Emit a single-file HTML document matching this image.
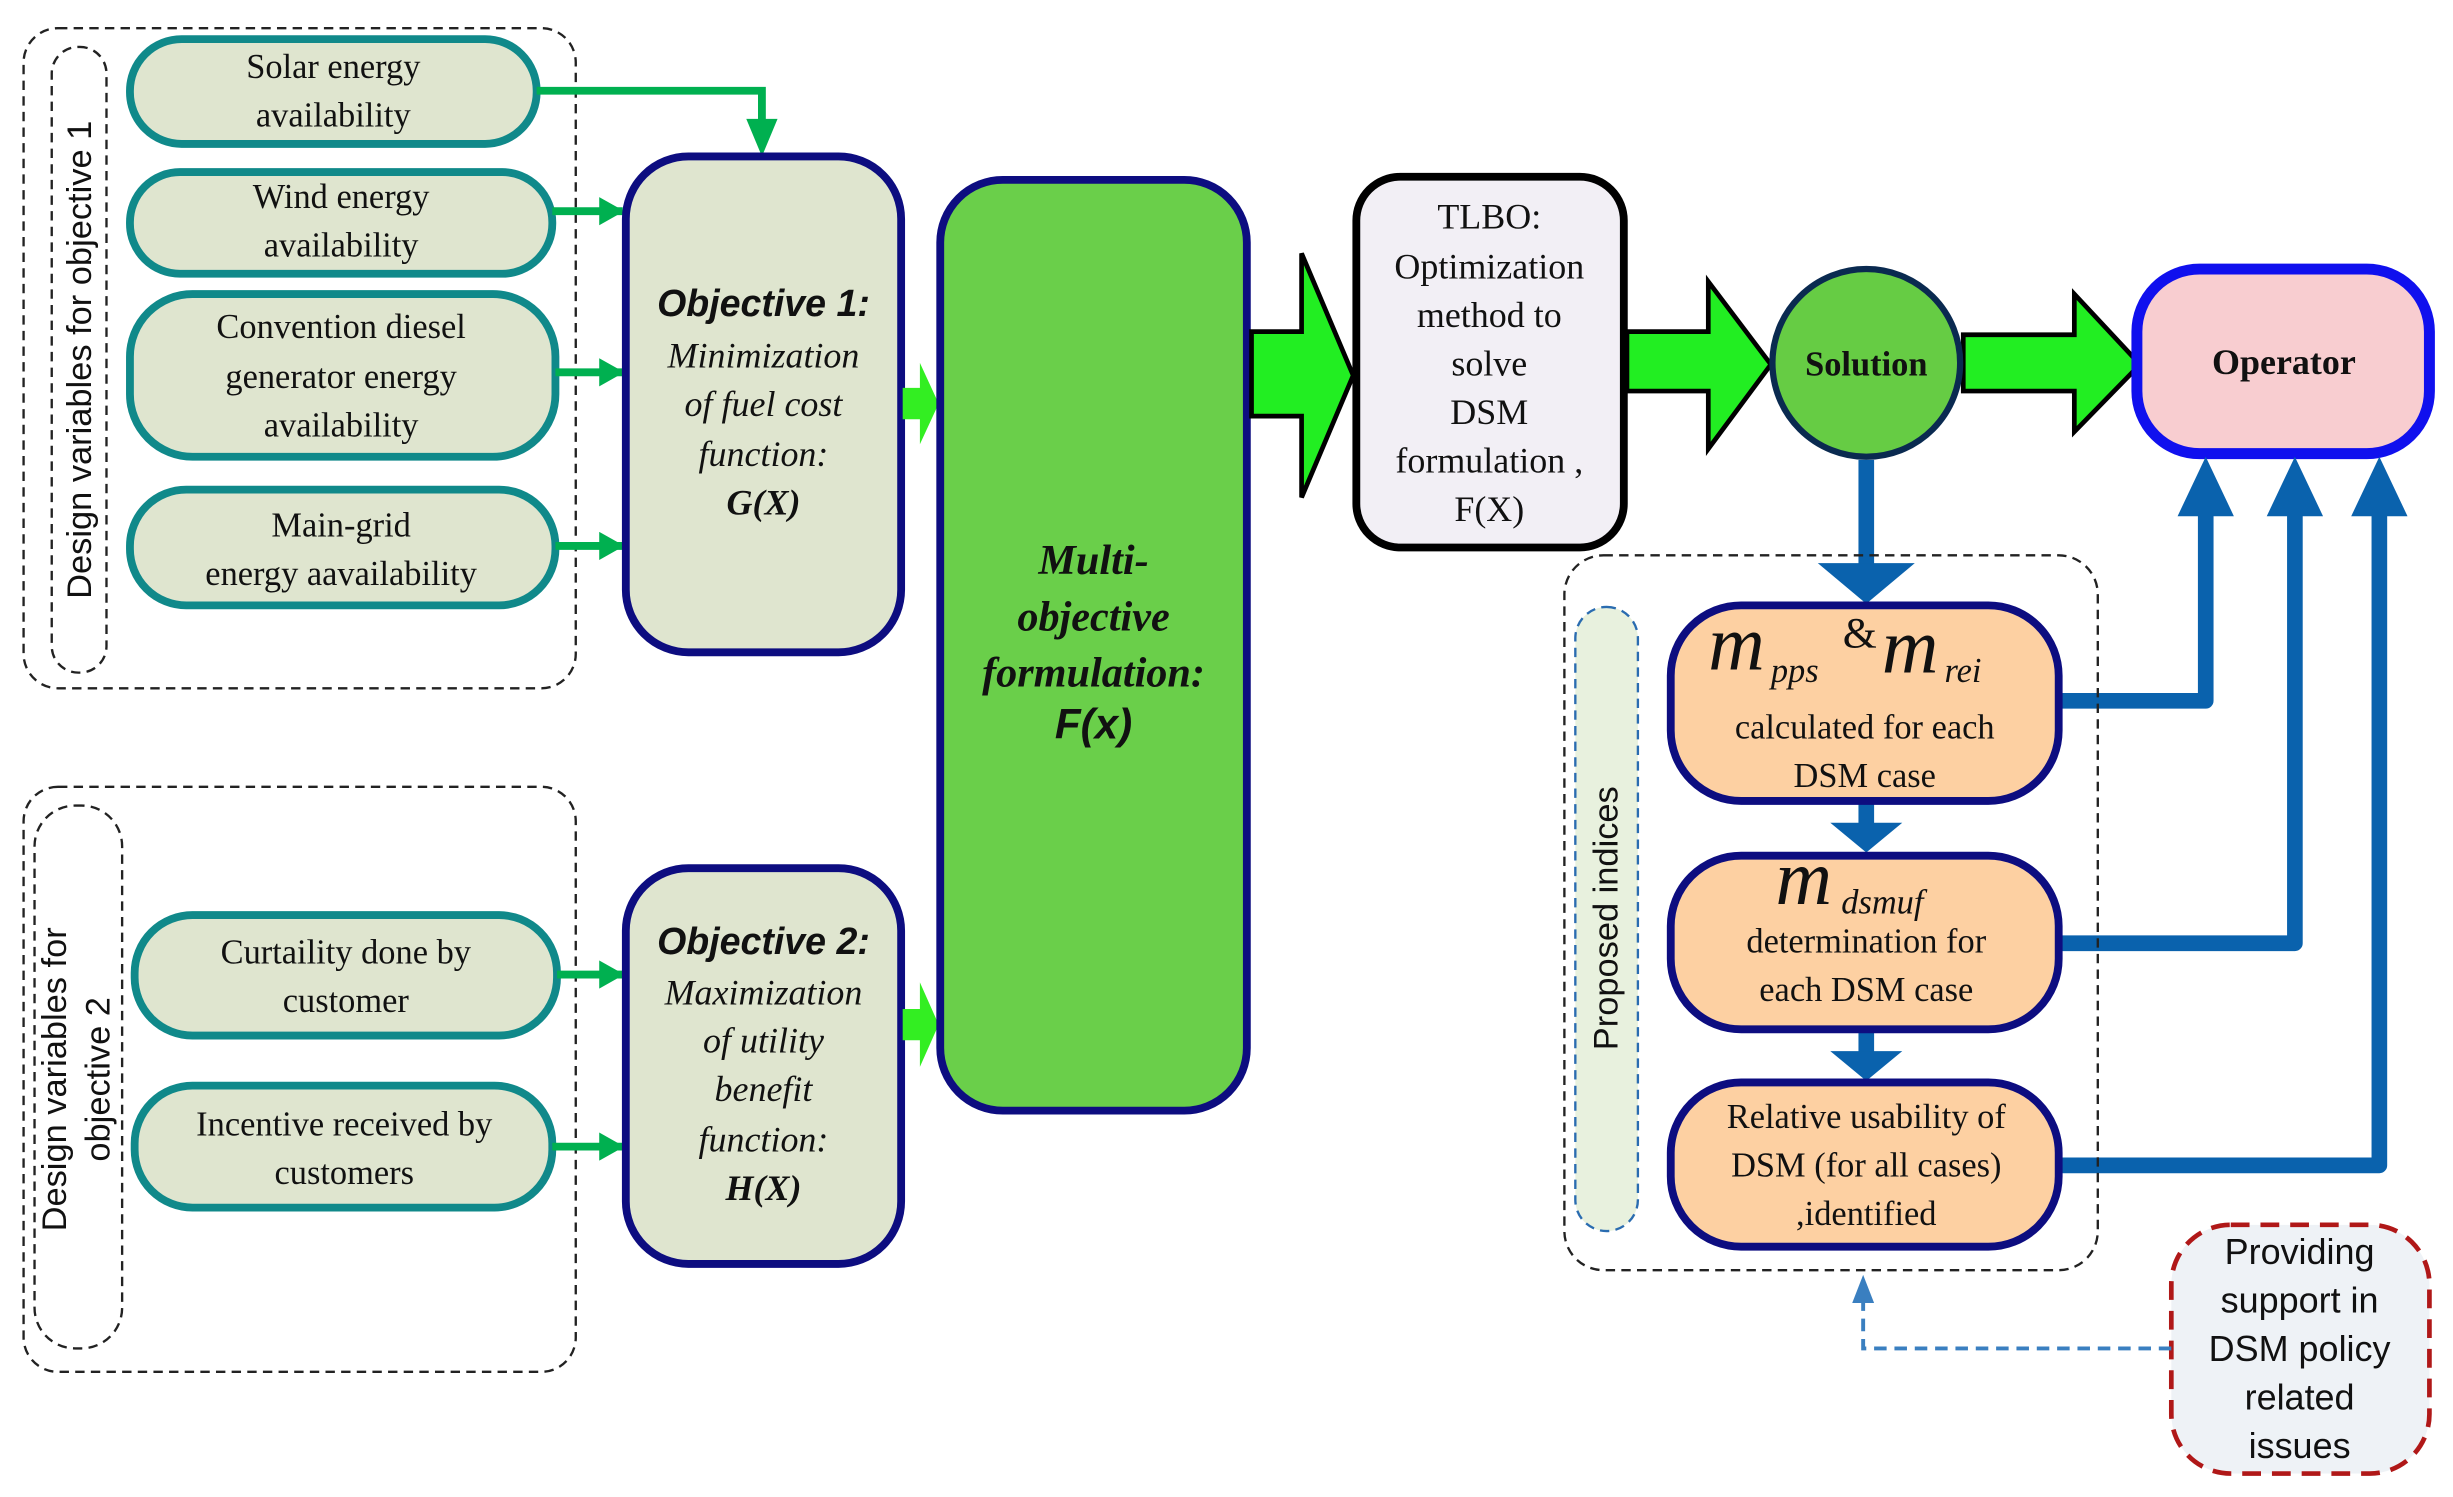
<!DOCTYPE html>
<html><head><meta charset="utf-8"><style>html,body{margin:0;padding:0;background:#fff}svg{display:block}</style></head>
<body>
<svg width="2453" height="1497" viewBox="0 0 1568 957" xmlns="http://www.w3.org/2000/svg">
<defs>
<marker id="ga" markerWidth="16" markerHeight="18" refX="15" refY="9" orient="auto" markerUnits="userSpaceOnUse"><path d="M0,0 L16,9 L0,18 z" fill="#00b050"/></marker>
</defs>
<g font-family="'Liberation Serif', serif" fill="#111">
<rect x="15" y="18" width="353" height="422" rx="22" fill="none" stroke="#222" stroke-width="1.5" stroke-dasharray="6,4"/>
<rect x="33" y="30" width="35" height="400" rx="17" fill="none" stroke="#222" stroke-width="1.5" stroke-dasharray="6,4"/>
<text transform="translate(58,230) rotate(-90)" text-anchor="middle" font-family="'Liberation Sans', sans-serif" font-size="22">Design variables for objective 1</text>

<g fill="#dfe5cf" stroke="#10898a" stroke-width="5">
<rect x="83" y="25" width="260" height="67" rx="33"/>
<rect x="83" y="110" width="270" height="65" rx="32"/>
<rect x="83" y="188" width="272" height="104" rx="40"/>
<rect x="83" y="313" width="272" height="74" rx="36"/>
<rect x="86" y="585" width="270" height="77" rx="37"/>
<rect x="86" y="694" width="267" height="78" rx="37"/>
</g>
<g font-size="22" text-anchor="middle">
<text x="213" y="50">Solar energy</text><text x="213" y="81">availability</text>
<text x="218" y="133">Wind energy</text><text x="218" y="164">availability</text>
<text x="218" y="216">Convention diesel</text><text x="218" y="248">generator energy</text><text x="218" y="279">availability</text>
<text x="218" y="343">Main-grid</text><text x="218" y="374">energy aavailability</text>
<text x="221" y="616">Curtaility done by</text><text x="221" y="647">customer</text>
<text x="220" y="726">Incentive received by</text><text x="220" y="757">customers</text>
</g>

<rect x="15" y="503" width="353" height="374" rx="22" fill="none" stroke="#222" stroke-width="1.5" stroke-dasharray="6,4"/>
<rect x="22" y="515" width="56" height="347" rx="26" fill="none" stroke="#222" stroke-width="1.5" stroke-dasharray="6,4"/>
<text transform="translate(42,690) rotate(-90)" text-anchor="middle" font-family="'Liberation Sans', sans-serif" font-size="22">Design variables for</text>
<text transform="translate(70,690) rotate(-90)" text-anchor="middle" font-family="'Liberation Sans', sans-serif" font-size="22">objective 2</text>

<g stroke="#00b050" stroke-width="5" fill="none">
<polyline points="343,58 487,58 487,80"/>
<line x1="353" y1="135" x2="398" y2="135" marker-end="url(#ga)"/>
<line x1="355" y1="238" x2="398" y2="238" marker-end="url(#ga)"/>
<line x1="355" y1="349" x2="398" y2="349" marker-end="url(#ga)"/>
<line x1="356" y1="623" x2="398" y2="623" marker-end="url(#ga)"/>
<line x1="353" y1="733" x2="398" y2="733" marker-end="url(#ga)"/>
</g>
<path d="M477,76 L497,76 L487,100 z" fill="#00b050"/>

<rect x="400" y="100" width="176" height="317" rx="40" fill="#dfe5cf" stroke="#0d0d80" stroke-width="5"/>
<rect x="400" y="555" width="176" height="253" rx="40" fill="#dfe5cf" stroke="#0d0d80" stroke-width="5"/>
<g text-anchor="middle" font-size="23" font-style="italic">
<text x="488" y="202" font-family="'Liberation Sans', sans-serif" font-weight="bold" font-size="24">Objective 1:</text>
<text x="488" y="235">Minimization</text><text x="488" y="266">of fuel  cost</text><text x="488" y="298">function:</text>
<text x="488" y="329" font-weight="bold">G(X)</text>
<text x="488" y="610" font-family="'Liberation Sans', sans-serif" font-weight="bold" font-size="24">Objective 2:</text>
<text x="488" y="642">Maximization</text><text x="488" y="673">of utility</text><text x="488" y="704">benefit</text><text x="488" y="736">function:</text>
<text x="488" y="767" font-weight="bold">H(X)</text>
</g>

<path d="M577,248 L588,248 L588,232 L600,258 L588,284 L588,268 L577,268 z" fill="#33ee22"/>
<path d="M577,645 L588,645 L588,628 L600,655 L588,682 L588,665 L577,665 z" fill="#33ee22"/>

<rect x="601" y="115" width="196" height="595" rx="40" fill="#6acf4a" stroke="#0d0d80" stroke-width="5"/>
<g text-anchor="middle" font-size="27" font-style="italic" font-weight="bold">
<text x="699" y="367">Multi-</text><text x="699" y="403">objective</text><text x="699" y="439">formulation:</text>
<text x="699" y="472" font-family="'Liberation Sans', sans-serif">F(x)</text>
</g>

<g fill="#22ee22" stroke="#000" stroke-width="3" stroke-linejoin="miter">
<path d="M800,212 L832,212 L832,162 L865,240 L832,318 L832,266 L800,266 z"/>
<path d="M1040,212 L1092,212 L1092,180 L1132,233 L1092,287 L1092,250 L1040,250 z"/>
<path d="M1255,214 L1326,214 L1326,188 L1368,233 L1326,276 L1326,250 L1255,250 z"/>
</g>

<rect x="867" y="113" width="171" height="237" rx="28" fill="#f2eff5" stroke="#000" stroke-width="5"/>
<g text-anchor="middle" font-size="23">
<text x="952" y="146">TLBO:</text><text x="952" y="178">Optimization</text><text x="952" y="209">method to</text><text x="952" y="240">solve</text><text x="952" y="271">DSM</text><text x="952" y="302">formulation ,</text><text x="952" y="333">F(X)</text>
</g>

<circle cx="1193" cy="232" r="60" fill="#66cc44" stroke="#0a2a50" stroke-width="4"/>
<text x="1193" y="240" text-anchor="middle" font-size="22" font-weight="bold">Solution</text>

<rect x="1366" y="172" width="187" height="118" rx="40" fill="#f8cdd0" stroke="#1010ee" stroke-width="7"/>
<text x="1460" y="239" text-anchor="middle" font-size="23" font-weight="bold">Operator</text>

<g stroke="#0a62ad" stroke-width="10" fill="none" stroke-linejoin="round">
<polyline points="1316,448 1410,448 1410,325"/>
<polyline points="1316,603 1467,603 1467,325"/>
<polyline points="1316,745 1521,745 1521,325"/>
<line x1="1193" y1="294" x2="1193" y2="362"/>
<line x1="1193" y1="512" x2="1193" y2="528"/>
<line x1="1193" y1="658" x2="1193" y2="674"/>
</g>
<g fill="#0a62ad">
<path d="M1392,330 L1410,292 L1428,330 z"/>
<path d="M1449,330 L1467,292 L1485,330 z"/>
<path d="M1503,330 L1521,292 L1539,330 z"/>
<path d="M1162,360 L1224,360 L1193,386 z"/>
<path d="M1170,526 L1216,526 L1193,545 z"/>
<path d="M1170,672 L1216,672 L1193,691 z"/>
</g>

<rect x="1000" y="355" width="341" height="457" rx="25" fill="none" stroke="#222" stroke-width="1.5" stroke-dasharray="6,4"/>
<rect x="1007" y="388" width="40" height="399" rx="20" fill="#e8f1de" stroke="#2a6cb0" stroke-width="1.5" stroke-dasharray="6,4"/>
<text transform="translate(1034,587) rotate(-90)" text-anchor="middle" font-family="'Liberation Sans', sans-serif" font-size="22">Proposed indices</text>

<g fill="#fdd0a2" stroke="#0d0d80" stroke-width="5">
<rect x="1068" y="387" width="248" height="125" rx="45"/>
<rect x="1068" y="547" width="248" height="111" rx="45"/>
<rect x="1068" y="692" width="248" height="105" rx="45"/>
</g>
<g font-style="italic">
<text x="1092" y="428" font-size="50">m</text><text x="1132" y="436" font-size="22">pps</text>
<text x="1178" y="414" font-size="28" font-style="normal">&amp;</text>
<text x="1203" y="430" font-size="50">m</text><text x="1243" y="436" font-size="22">rei</text>
<text x="1135" y="578" font-size="50">m</text><text x="1177" y="584" font-size="22">dsmuf</text>
</g>
<g text-anchor="middle" font-size="22">
<text x="1192" y="472">calculated for each</text><text x="1192" y="503">DSM case</text>
<text x="1193" y="609">determination for</text><text x="1193" y="640">each DSM case</text>
<text x="1193" y="721">Relative usability  of</text><text x="1193" y="752">DSM (for all cases)</text><text x="1193" y="783">,identified</text>
</g>

<rect x="1388" y="783" width="165" height="159" rx="38" fill="#eef2f6" stroke="#b01818" stroke-width="3" stroke-dasharray="12,7"/>
<g text-anchor="middle" font-family="'Liberation Sans', sans-serif" font-size="23">
<text x="1470" y="808">Providing</text><text x="1470" y="839">support  in</text><text x="1470" y="870">DSM policy</text><text x="1470" y="901">related</text><text x="1470" y="932">issues</text>
</g>
<polyline points="1388,862 1191,862 1191,832" fill="none" stroke="#3a7fc0" stroke-width="2.5" stroke-dasharray="8,5"/>
<path d="M1184,833 L1198,833 L1191,815 z" fill="#3a7fc0"/>
</g>
</svg>
</body></html>
